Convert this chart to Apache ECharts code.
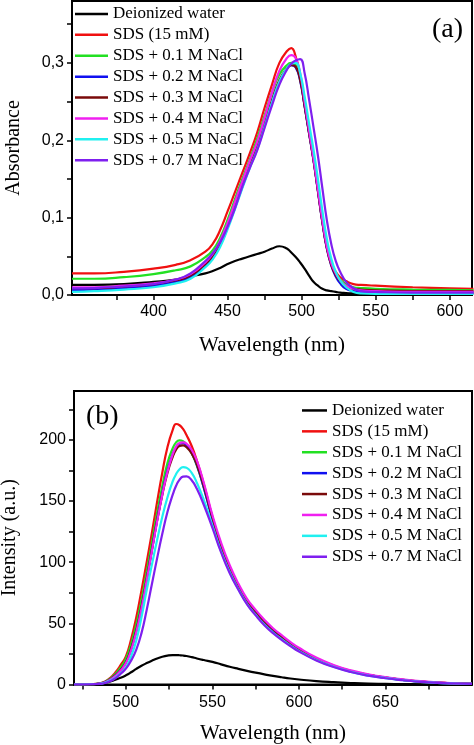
<!DOCTYPE html>
<html><head><meta charset="utf-8">
<script src="https://cdn.jsdelivr.net/npm/echarts@6/dist/echarts.min.js"></script>
<style>html,body{margin:0;padding:0;background:#fff}#c{width:474px;height:745px}</style>
</head><body><div id="c"></div>
<script>
const seriesNames = ['Deionized water','SDS (15 mM)','SDS + 0.1 M NaCl','SDS + 0.2 M NaCl','SDS + 0.3 M NaCl','SDS + 0.4 M NaCl','SDS + 0.5 M NaCl','SDS + 0.7 M NaCl'];
const seriesColors = ['#000000','#f01010','#22e022','#1010f0','#7a0a0a','#f020f0','#20f0f0','#7f1fef'];

// (a) Absorbance
const absWavelength = [345,360,380,400,415,425,435,440,445,450,455,460,465,470,475,480,485,490,493,496,499,502,505,508,511,514,517,520,523,526,530,535,540,550,575,600,616];
const absWater  = [0.013,0.013,0.014,0.017,0.020,0.024,0.028,0.031,0.035,0.040,0.044,0.047,0.050,0.053,0.056,0.060,0.063,0.060,0.055,0.049,0.042,0.034,0.025,0.017,0.012,0.008,0.006,0.005,0.004,0.003,0.0025,0.002,0.002,0.002,0.002,0.002,0.002];
const absSDS    = [0.028,0.028,0.030,0.034,0.039,0.045,0.056,0.066,0.084,0.108,0.133,0.158,0.183,0.210,0.242,0.272,0.300,0.315,0.319,0.308,0.283,0.245,0.210,0.175,0.135,0.095,0.062,0.042,0.030,0.023,0.018,0.014,0.013,0.012,0.010,0.0085,0.008];
const absNaCl01 = [0.021,0.021,0.023,0.027,0.032,0.037,0.049,0.058,0.074,0.097,0.124,0.150,0.175,0.202,0.232,0.262,0.285,0.297,0.300,0.297,0.280,0.246,0.211,0.176,0.136,0.096,0.062,0.041,0.028,0.020,0.014,0.010,0.009,0.008,0.007,0.0065,0.006];
const absNaCl02 = [0.0065,0.007,0.009,0.012,0.017,0.023,0.038,0.048,0.064,0.087,0.113,0.140,0.166,0.190,0.220,0.250,0.276,0.292,0.297,0.294,0.277,0.244,0.209,0.174,0.134,0.094,0.060,0.038,0.024,0.015,0.008,0.005,0.004,0.0035,0.003,0.003,0.003];
const absNaCl03 = [0.009,0.009,0.011,0.014,0.019,0.025,0.040,0.050,0.066,0.089,0.115,0.142,0.168,0.192,0.222,0.252,0.278,0.293,0.297,0.295,0.278,0.245,0.210,0.175,0.135,0.095,0.061,0.039,0.026,0.018,0.011,0.008,0.007,0.006,0.005,0.005,0.005];
const absNaCl04 = [0.010,0.010,0.012,0.015,0.020,0.027,0.042,0.053,0.070,0.093,0.120,0.147,0.173,0.198,0.229,0.262,0.290,0.306,0.310,0.306,0.287,0.250,0.213,0.177,0.137,0.097,0.063,0.041,0.028,0.019,0.012,0.008,0.006,0.005,0.004,0.004,0.004];
const absNaCl05 = [0.004,0.005,0.007,0.010,0.015,0.021,0.036,0.046,0.062,0.085,0.111,0.138,0.164,0.188,0.218,0.249,0.276,0.293,0.299,0.300,0.287,0.257,0.222,0.188,0.150,0.109,0.073,0.047,0.030,0.019,0.010,0.004,0.002,0.0015,0.0015,0.0015,0.0015];
const absNaCl07 = [0.0086,0.009,0.011,0.014,0.020,0.028,0.044,0.054,0.068,0.088,0.112,0.140,0.164,0.187,0.216,0.245,0.272,0.291,0.299,0.303,0.305,0.287,0.253,0.217,0.180,0.138,0.097,0.066,0.044,0.030,0.017,0.009,0.005,0.004,0.003,0.003,0.003];
const absXLabels = [400,450,500,550,600];
const absXTicks = [375,400,425,450,475,500,525,550,575,600];
const absYLabels = [0,0.1,0.2,0.3];
const absYTicks = [0,0.05,0.1,0.15,0.2,0.25,0.3,0.35];

// (b) Fluorescence intensity
const flWavelength = [470,480,485,488,491,494,497,500,503,506,509,512,515,518,521,524,527,529,531,533,535,538,541,545,550,555,560,565,570,575,580,585,590,595,600,610,620,630,640,650,660,670,680,690,700];
const flWater  = [0,0.1,0.5,1.2,2.5,4,5.5,7.5,10,12.8,15.3,17.5,19.5,21.3,22.7,23.6,24,24,23.9,23.7,23.3,22.4,21.3,20,18.5,16.5,14.5,12.8,11.2,9.7,8.3,7,5.9,4.9,4.1,2.8,1.9,1.2,0.7,0.5,0.3,0.2,0.1,0.1,0.1];
const flSDS    = [0,0.3,1,2.5,5.5,10,16,23,37,55,77,100,124,149,173,194,208,213,212,209,204,195,183,164,137,113,95,80,68,59,51,44.5,39,33.5,29,21,15.3,11,8,5.7,3.9,2.5,1.5,0.9,0.5];
const flNaCl01 = [0,0.3,0.9,2.2,4.8,8.8,14,21,33,49,69,92,116,140,162,181,193,198,199.6,199,196,189,179,161,135,112,94,79.5,67.5,58.5,50.5,44,38.5,33,28.5,20.8,15.1,10.8,7.8,5.6,3.8,2.4,1.4,0.9,0.5];
const flNaCl02 = [0,0.2,0.8,2,4.2,7.5,12,18,29,44,63,86,110,134,156,175,188,194,197,197.4,195.5,189.5,179.5,161,135,112,94,79,67,58,50,43.5,38,32.7,28.2,20.6,15,10.7,7.7,5.5,3.7,2.3,1.4,0.9,0.5];
const flNaCl03 = [0,0.2,0.8,2,4.2,7.5,12,18,29,44,63,86,110,134,155,173,186,192,195,195.5,194,189,180,162.5,136.5,113.5,95.5,80.5,68.5,59.5,51.5,45,39,33.8,29,21.2,15.4,11,7.9,5.6,3.8,2.4,1.5,0.9,0.5];
const flNaCl04 = [0,0.2,0.8,1.9,4,7.2,11.5,17.5,28,43,62,85,109,133,155,174,188,194.5,197.5,198,197,192,183,165,138.5,116,97.5,82.5,70,61,53,46,40.3,34.8,30,22,16,11.5,8.4,6,4.2,2.7,1.7,1,0.6];
const flNaCl05 = [0,0.2,0.6,1.5,3.2,5.8,9.3,14,23,36,55,77,98,118,137,153,166,172,176,177.8,177.3,173,165,151,130,109,92,78,66,57,49,42.5,37,32,27.5,20,14.5,10.3,7.3,5.2,3.5,2.2,1.3,0.8,0.5];
const flNaCl07 = [0,0.2,0.5,1.2,2.8,5.2,8.8,13,19.5,28.5,42,61,82,103,123,141,155,162.5,167.5,170,170.2,167,160,147,128,108,91,77.5,65.5,56.5,48.5,42,36.5,31.5,27,19.7,14.3,10.2,7.2,5.1,3.5,2.2,1.3,0.8,0.5];
const flXLabels = [500,550,600,650];
const flXTicks = [475,500,525,550,575,600,625,650,675];
const flYLabels = [0,50,100,150,200];
const flYTicks = [0,25,50,75,100,125,150,175,200,225];

const absSets = [absWater,absSDS,absNaCl01,absNaCl02,absNaCl03,absNaCl04,absNaCl05,absNaCl07];
const flSets = [flWater,flSDS,flNaCl01,flNaCl02,flNaCl03,flNaCl04,flNaCl05,flNaCl07];

const serif = 'Liberation Serif';
const sans = 'Liberation Sans';

function xAxisCfg(gi, min, max, labels, ticks, nameGap, margin) {
  return {
    type: 'value', gridIndex: gi, min: min, max: max,
    name: 'Wavelength (nm)', nameLocation: 'middle', nameGap: nameGap,
    nameTextStyle: { fontFamily: serif, fontSize: 21, color: '#000' },
    axisLine: { show: true, lineStyle: { color: '#000', width: 2 } },
    axisTick: { show: true, inside: false, length: 5, lineStyle: { color: '#000', width: 1.5 }, customValues: ticks },
    axisLabel: { fontFamily: sans, fontSize: 16, color: '#000', margin: margin, customValues: labels },
    splitLine: { show: false }
  };
}
function yAxisCfg(gi, min, max, labels, ticks, name, nameGap, fmt) {
  return {
    type: 'value', gridIndex: gi, min: min, max: max,
    name: name, nameLocation: 'middle', nameGap: nameGap, nameRotate: 90,
    nameTextStyle: { fontFamily: serif, fontSize: 20, color: '#000' },
    axisLine: { show: true, lineStyle: { color: '#000', width: 2 } },
    axisTick: { show: true, inside: false, length: 5, lineStyle: { color: '#000', width: 1.5 }, customValues: ticks },
    axisLabel: { fontFamily: sans, fontSize: 16, color: '#000', margin: 8, customValues: labels, formatter: fmt },
    splitLine: { show: false }
  };
}

const series = [];
seriesNames.forEach(function (n, i) {
  series.push({
    name: n, type: 'line', xAxisIndex: 0, yAxisIndex: 0, showSymbol: false, symbol: 'none',
    smooth: 0.5, color: seriesColors[i],
    lineStyle: { width: 2.2, color: seriesColors[i] },
    data: absWavelength.map(function (w, k) { return [w, absSets[i][k]]; })
  });
});
seriesNames.forEach(function (n, i) {
  series.push({
    name: n, type: 'line', xAxisIndex: 1, yAxisIndex: 1, showSymbol: false, symbol: 'none',
    smooth: 0.5, color: seriesColors[i],
    lineStyle: { width: 2.2, color: seriesColors[i] },
    data: flWavelength.map(function (w, k) { return [w, flSets[i][k]]; })
  });
});

const legendCommon = {
  orient: 'vertical', icon: 'rect', itemHeight: 2.5, itemGap: 0, padding: 0,
  selectedMode: false,
  textStyle: { fontFamily: serif, fontSize: 17, color: '#000', lineHeight: 20.9 },
  data: seriesNames
};

const option = {
  animation: false,
  backgroundColor: '#fff',
  grid: [
    { left: 72, top: 1, width: 400, height: 294, containLabel: false, outerBoundsMode: 'none', show: true, borderColor: '#000', borderWidth: 2, backgroundColor: 'transparent' },
    { left: 74, top: 391, width: 398, height: 293.5, containLabel: false, outerBoundsMode: 'none', show: true, borderColor: '#000', borderWidth: 2, backgroundColor: 'transparent' }
  ],
  xAxis: [
    xAxisCfg(0, 345, 615, absXLabels, absXTicks, 40, 9),
    xAxisCfg(1, 470, 700, flXLabels, flXTicks, 38, 10)
  ],
  yAxis: [
    yAxisCfg(0, 0, 0.38, absYLabels, absYTicks, 'Absorbance', 48, function (v) { return v.toFixed(1).replace('.', ','); }),
    yAxisCfg(1, 0, 240, flYLabels, flYTicks, 'Intensity (a.u.)', 54, function (v) { return String(v); })
  ],
  legend: [
    Object.assign({}, legendCommon, { left: 75, top: 3.5, itemWidth: 33 }),
    Object.assign({}, legendCommon, { left: 302, top: 400, itemWidth: 25 })
  ],
  graphic: [
    { type: 'text', left: 432, top: 16, style: { text: '(a)', fontFamily: serif, fontSize: 28, fill: '#000' } },
    { type: 'text', left: 86, top: 403, style: { text: '(b)', fontFamily: serif, fontSize: 28, fill: '#000' } }
  ],
  series: series
};

const chart = echarts.init(document.getElementById('c'), null, { renderer: 'canvas' });
chart.setOption(option);
</script>
</body></html>
